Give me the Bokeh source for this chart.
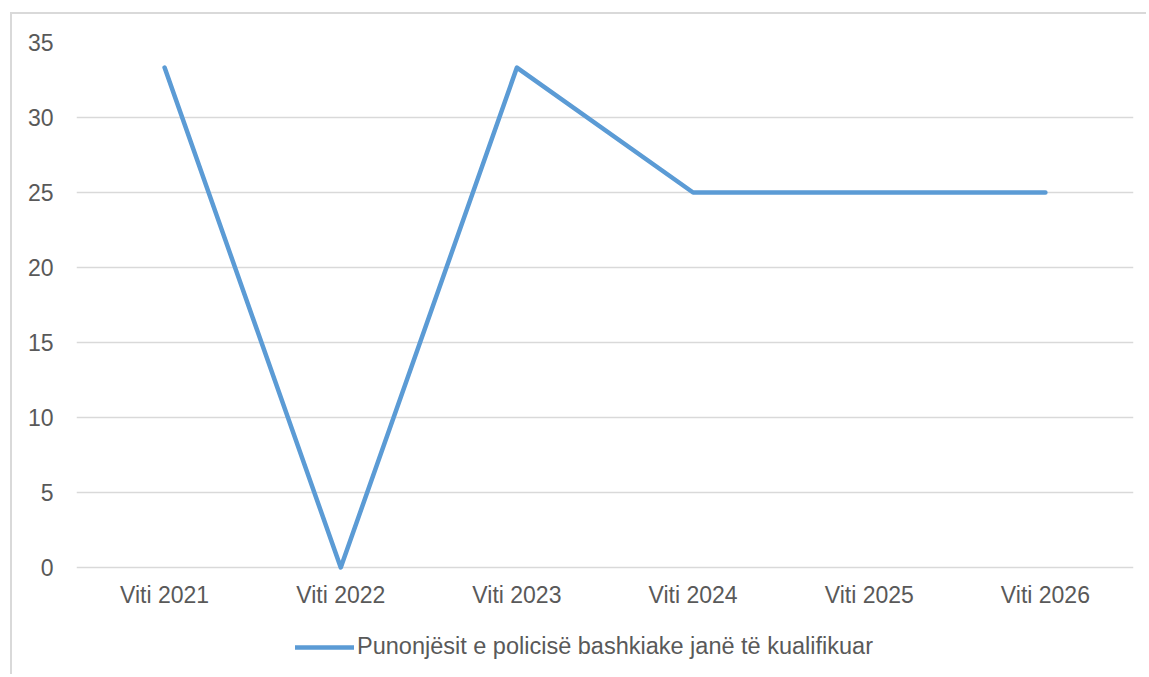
from bokeh.plotting import figure
from bokeh.models import Legend, LegendItem, ColumnDataSource, FactorRange, Range1d, FixedTicker
from bokeh.embed import file_html
from bokeh.resources import INLINE

categories = ["Viti 2021", "Viti 2022", "Viti 2023", "Viti 2024", "Viti 2025", "Viti 2026"]
values = [33.33, 0, 33.33, 25, 25, 25]
series_name = "Punonjësit e policisë bashkiake janë të kualifikuar"
y_ticks = [0, 5, 10, 15, 20, 25, 30, 35]

FONT = "Liberation Sans"
TXT = "#595959"
FS = "23px"

source = ColumnDataSource(dict(x=categories, y=values))

# frame is extended below zero so the legend can sit inside it
p = figure(
    x_range=FactorRange(*categories, range_padding=0),
    y_range=Range1d(-6.4667, 35),
    width=1136, height=662,
    output_backend="svg", toolbar_location=None,
    min_border_left=64, min_border_right=15, min_border_top=28, min_border_bottom=12,
)
# chart-area border, continuing past the window at right/bottom
p.styles = {"margin-left": "10px", "margin-top": "12px",
            "border-left": "2px solid #d9d9d9", "border-top": "2px solid #d9d9d9"}
p.outline_line_color = None
p.background_fill_color = "white"
p.border_fill_color = "white"

r = p.line("x", "y", source=source, line_color="#5b9bd5", line_width=4.5,
           line_join="round", line_cap="round")

p.xgrid.grid_line_color = None
p.ygrid.grid_line_color = "#d9d9d9"
p.ygrid.grid_line_width = 1.5
p.yaxis.ticker = FixedTicker(ticks=y_ticks)

for ax in (p.xaxis[0], p.yaxis[0]):
    ax.axis_line_color = None
    ax.major_tick_line_color = None
    ax.minor_tick_line_color = None
    ax.major_tick_out = 0
    ax.major_tick_in = 0
    ax.major_label_text_font = FONT
    ax.major_label_text_font_size = FS
    ax.major_label_text_color = TXT
p.xaxis.fixed_location = -2.3333
p.xaxis.major_label_standoff = -20
p.yaxis.major_label_standoff = 23

legend = Legend(items=[LegendItem(label=series_name, renderers=[r])],
                location=(219, 4), orientation="horizontal",
                padding=0, margin=0, spacing=0,
                glyph_width=59, glyph_height=20, label_standoff=3,
                label_text_font=FONT, label_text_font_size="23.5px", label_text_color=TXT,
                border_line_color=None, background_fill_alpha=0)
p.add_layout(legend, "center")

open("out.html", "w").write(file_html(p, INLINE))
